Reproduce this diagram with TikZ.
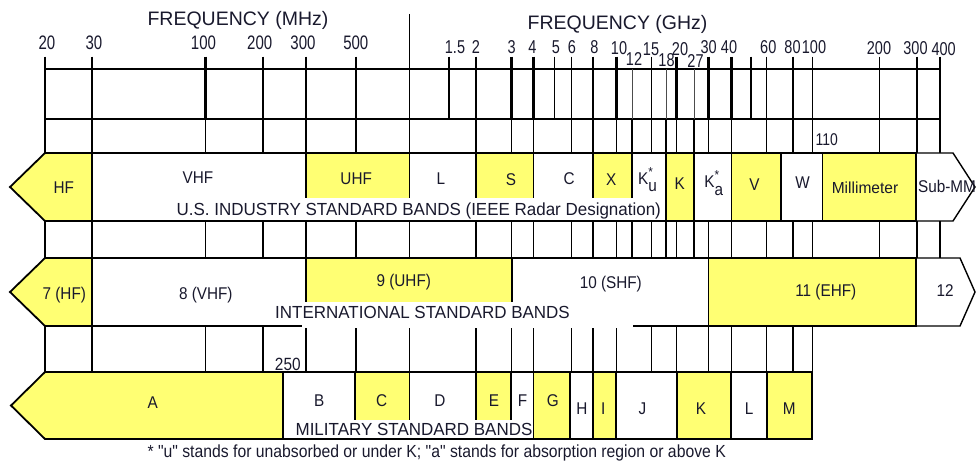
\documentclass[tikz,border=0pt]{standalone}
\usepackage{fontspec}
\setmainfont{Liberation Sans}[Ligatures=TeXOff]
\usepackage{graphicx}
\definecolor{byel}{RGB}{255,255,115}
\definecolor{tcol}{RGB}{25,25,45}
\newcommand\sqz[2]{\scalebox{#1}[1]{#2}}
\newcommand\fs[1]{\fontsize{#1}{#1}\selectfont}
\newcommand\Ksub[1]{K\rlap{\raisebox{8pt}{\fs{13}*}}\raisebox{-7.4pt}{#1}}
\begin{document}
\begin{tikzpicture}[x=1pt,y=-1pt,
  yb/.style={fill=byel,draw=black,line width=1.8pt},
  wb/.style={fill=white,draw=black,line width=1.4pt},
  gl/.style={line width=1.2pt},
  tk/.style={line width=1.5pt},
  tkb/.style={line width=2.2pt},
  tkt/.style={line width=0.9pt,draw=black!70},
  txt/.style={inner sep=0pt,anchor=base,text=tcol},
  title/.style={txt,font=\fs{19.5}},
  mhz/.style={txt,font=\fs{19.5}},
  ghz/.style={txt,font=\fs{18.6}},
  band/.style={txt,font=\fs{17}},
  rowl/.style={txt,font=\fs{17.5}},
]
\useasboundingbox (0,0) rectangle (976,462);

% guide lines in the gaps
\foreach \x in {45,92,205.5,263,306,356,409.5,476,511.5,533.5,571.5,593,616.5,632,651.5,666,676.5,694,708.5,731.5,766.5,793,812.5,879.5,917,940}{
  \draw[gl] (\x,119) -- (\x,153);
  \draw[gl] (\x,221) -- (\x,258);}
\foreach \x in {45,92,205.5,263,306,356,409.5,476,511.5,533.5,571.5,593,616.5,651.5,676.5,708.5,731.5,766.5,793,812.5}{
  \draw[gl] (\x,326) -- (\x,372);}

% frequency axis
\draw[line width=1.8pt] (45,69.3) rectangle (940,119);
\foreach \x in {45,92,263,306,449,476,554.5,571.5,593,651.5,751,766.5,793,812.5,879.5,917,940}{
  \draw[tk] (\x,56.7) -- (\x,119);}
\foreach \x in {205.5,356,511.5,533.5,616.5,676.5,708.5,731.5}{
  \draw[tkb] (\x,56.7) -- (\x,119);}
\foreach \x in {632,666,694}{
  \draw[tkt] (\x,69.3) -- (\x,119);}
\draw[line width=1.8pt] (409.5,14) -- (409.5,119);

% row 1: US industry bands
\draw[wb] (92,153) rectangle (306,221);
\draw[wb] (409.5,153) rectangle (476,221);
\draw[wb] (533.5,153) rectangle (593,221);
\draw[wb] (632,153) rectangle (666,221);
\draw[wb] (694,153) rectangle (731.5,221);
\draw[wb] (781,153) rectangle (822.5,221);
\draw[wb] (916,153) -- (953,153) -- (975,187) -- (953,221) -- (916,221) -- cycle;
\draw[yb] (92,153) -- (45,153) -- (10,187) -- (45,221) -- (92,221) -- cycle;
\draw[yb] (306,153) rectangle (409.5,221);
\draw[yb] (476,153) rectangle (533.5,221);
\draw[yb] (593,153) rectangle (632,221);
\draw[yb] (666,153) rectangle (694,221);
\draw[yb] (731.5,153) rectangle (781,221);
\draw[yb] (822.5,153) rectangle (916,221);

% row 2: international bands
\draw[wb] (92,258) rectangle (306,326);
\draw[wb] (512,258) rectangle (708.5,326);
\draw[wb] (916,258) -- (960,258) -- (975,292) -- (960,326) -- (916,326) -- cycle;
\draw[yb] (92,258) -- (45,258) -- (10,292) -- (45,326) -- (92,326) -- cycle;
\draw[yb] (306,258) rectangle (512,326);
\draw[yb] (708.5,258) rectangle (916,326);

% row 3: military bands
\draw[wb] (283,372) rectangle (355,439);
\draw[wb] (409.5,372) rectangle (476,439);
\draw[wb] (511,372) rectangle (533.5,439);
\draw[wb] (570,372) rectangle (593,439);
\draw[wb] (616,372) rectangle (677,439);
\draw[wb] (731,372) rectangle (767,439);
\draw[yb] (283,372) -- (45,372) -- (11,405.5) -- (45,439) -- (283,439) -- cycle;
\draw[yb] (355,372) rectangle (409.5,439);
\draw[yb] (476,372) rectangle (511,439);
\draw[yb] (533.5,372) rectangle (570,439);
\draw[yb] (593,372) rectangle (616,439);
\draw[yb] (677,372) rectangle (731,439);
\draw[yb] (767,372) rectangle (812,439);

% white backgrounds of the row captions
\fill[white] (173,198) rectangle (664,219.9);
\fill[white] (302,301.5) rectangle (633,327.6);
\fill[white] (285,420) rectangle (532.5,437.9);

% titles
\node[title] (tmhz) at (238,25.3) {FREQUENCY (MHz)};
\node[title] (tghz) at (617.5,30) {FREQUENCY (GHz)};

% MHz numbers
\node[mhz] (m20)  at (47,49.3)    {\sqz{0.77}{20}};
\node[mhz] (m30)  at (94,49.3)    {\sqz{0.77}{30}};
\node[mhz] (m100) at (203.5,49.3) {\sqz{0.77}{100}};
\node[mhz] (m200) at (259.7,49.3) {\sqz{0.77}{200}};
\node[mhz] (m300) at (303,49.3)   {\sqz{0.77}{300}};
\node[mhz] (m500) at (355.8,49.3) {\sqz{0.77}{500}};

% GHz numbers
\node[ghz] (g1p5) at (455,53.3)   {\sqz{0.78}{1.5}};
\node[ghz] (g2)   at (476,53.3)   {\sqz{0.78}{2}};
\node[ghz] (g3)   at (511.7,53.3) {\sqz{0.78}{3}};
\node[ghz] (g4)   at (532.5,53.3) {\sqz{0.78}{4}};
\node[ghz] (g5)   at (556,53.3)   {\sqz{0.78}{5}};
\node[ghz] (g6)   at (572,53.3)   {\sqz{0.78}{6}};
\node[ghz] (g8)   at (594.5,53.3) {\sqz{0.78}{8}};
\node[ghz] (g10)  at (619,55)     {\sqz{0.78}{10}};
\node[ghz] (g12)  at (634,66)     {\sqz{0.78}{12}};
\node[ghz] (g15)  at (651,56)     {\sqz{0.78}{15}};
\node[ghz] (g18)  at (666.5,66.5) {\sqz{0.78}{18}};
\node[ghz] (g20)  at (680,56)     {\sqz{0.78}{20}};
\node[ghz] (g27)  at (695.5,67.3) {\sqz{0.78}{27}};
\node[ghz] (g30)  at (708.7,54)   {\sqz{0.78}{30}};
\node[ghz] (g40)  at (729,53.3)   {\sqz{0.78}{40}};
\node[ghz] (g60)  at (768.3,53.3) {\sqz{0.78}{60}};
\node[ghz] (g80)  at (792.5,53.3) {\sqz{0.78}{80}};
\node[ghz] (g100) at (814,53.3)   {\sqz{0.78}{100}};
\node[ghz] (g200) at (879,55)     {\sqz{0.78}{200}};
\node[ghz] (g300) at (915.5,55)   {\sqz{0.78}{300}};
\node[ghz] (g400) at (943.7,55.5) {\sqz{0.78}{400}};

\node[txt,font=\fs{17}]   (n110) at (826.7,145.7) {\sqz{0.82}{110}};
\node[txt,font=\fs{17.7}] (n250) at (287.8,370)   {\sqz{0.87}{250}};

% row 1 labels
\node[band] (hf)   at (63.7,194)   {\sqz{0.9}{HF}};
\node[band] (vhf)  at (198,184)    {\sqz{0.9}{VHF}};
\node[band] (uhf)  at (356.2,184.3){\sqz{0.9}{UHF}};
\node[band] (l)    at (440.8,184.3){\sqz{0.9}{L}};
\node[band] (s)    at (511,185.7)  {\sqz{0.9}{S}};
\node[band] (c)    at (569.2,185)  {\sqz{0.9}{C}};
\node[band] (x)    at (611.3,185.7){\sqz{0.9}{X}};
\node[band] (ku)   at (647.5,184.3){\sqz{0.9}{\Ksub{u}}};
\node[band] (k)    at (679.7,190)  {\sqz{0.9}{K}};
\node[band] (ka)   at (713.7,187.7){\sqz{0.9}{\Ksub{a}}};
\node[band] (v)    at (754.5,190.7){\sqz{0.9}{V}};
\node[band] (w)    at (802.5,189)  {\sqz{0.9}{W}};
\node[txt,font=\fs{16}] (mm) at (865,194) {\sqz{0.97}{Millimeter}};
\node[band] (submm) at (947,192.7) {\sqz{0.9}{Sub-MM}};

% row 2 labels
\node[band] (i7)  at (64.3,299)  {\sqz{0.9}{7 (HF)}};
\node[band] (i8)  at (205.8,299) {\sqz{0.9}{8 (VHF)}};
\node[band] (i9)  at (403.8,286) {\sqz{0.9}{9 (UHF)}};
\node[band] (i10) at (610.8,288.7){\sqz{0.9}{10 (SHF)}};
\node[band] (i11) at (825.8,296) {\sqz{0.9}{11 (EHF)}};
\node[band] (i12) at (945,296)   {\sqz{0.9}{12}};

% row 3 labels
\node[band] (ma) at (152.7,408.3) {\sqz{0.9}{A}};
\node[band] (mb) at (319.3,406) {\sqz{0.9}{B}};
\node[band] (mc) at (381.7,406) {\sqz{0.9}{C}};
\node[band] (md) at (440,406)   {\sqz{0.9}{D}};
\node[band] (me) at (494,406)   {\sqz{0.9}{E}};
\node[band] (mf) at (522.5,406) {\sqz{0.9}{F}};
\node[band] (mg) at (552.7,406) {\sqz{0.9}{G}};
\node[band] (mh) at (582,414)   {\sqz{0.9}{H}};
\node[band] (mi) at (603.3,414) {\sqz{0.9}{I}};
\node[band] (mj) at (642.5,414) {\sqz{0.9}{J}};
\node[band] (mk) at (701,414)   {\sqz{0.9}{K}};
\node[band] (ml) at (749,414)   {\sqz{0.9}{L}};
\node[band] (mm2) at (789.3,414) {\sqz{0.9}{M}};

% row captions
\node[rowl] (us)  at (418.8,215.5) {\sqz{0.97}{U.S. INDUSTRY STANDARD BANDS (IEEE Radar Designation)}};
\node[rowl] (int) at (422.5,318.3) {\sqz{0.97}{INTERNATIONAL STANDARD BANDS}};
\node[rowl] (mil) at (414,435)     {\sqz{0.97}{MILITARY STANDARD BANDS}};

% footnote
\node[rowl] (note) at (436.7,457.5) {\sqz{0.9}{* "u" stands for unabsorbed or under K; "a" stands for absorption region or above K}};
\end{tikzpicture}
\end{document}
